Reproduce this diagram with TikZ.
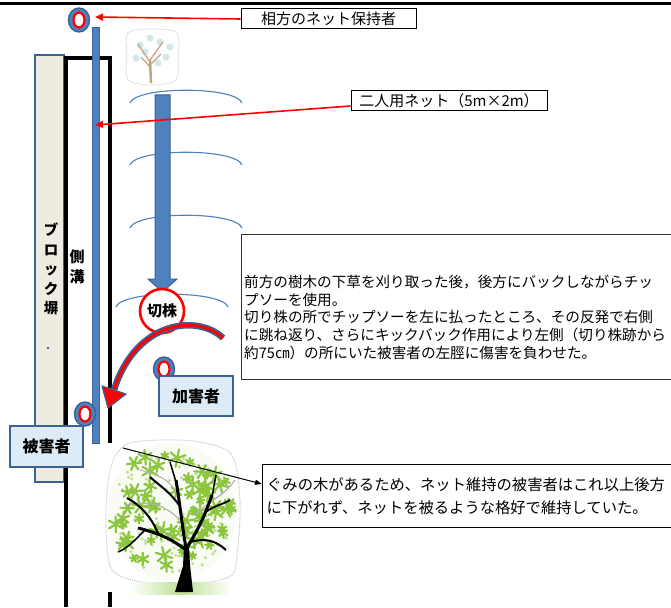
\documentclass[tikz,border=0pt]{standalone}
\usepackage{fontspec}
\usepackage{tikz}
\usetikzlibrary{arrows.meta,calc}

\newfontfamily\jp{Noto Sans CJK JP}

\definecolor{NetBlue}{HTML}{4F81BD}
\definecolor{EdgeBlue}{HTML}{3B6294}
\definecolor{TagFill}{HTML}{DCEBF5}
\definecolor{WallFill}{HTML}{EEECE1}
\definecolor{LeafGreen}{HTML}{8CC63F}
\definecolor{BarkTan}{HTML}{C8A27C}

\newcommand\netarc[2]{% centre x, top y
  \draw[NetArcSty] (#1-56,#2+13) .. controls (#1-50,#2-4) and (#1+50,#2-4) .. (#1+56,#2+13);
}
\newcommand\holdring[2]{% name, centre
  \coordinate (#1) at #2;
  \fill[NetBlue,even odd rule] (#1) ellipse (10.5 and 12) (#1) ellipse (5.5 and 7.5);
  \draw[EdgeBlue,line width=1.4pt] (#1) ellipse (10.5 and 12);
  \draw[red,line width=2.2pt] (#1) ellipse (5.5 and 7.5);
}
\newcommand\leaf[4]{% x, y, size, turn
  \foreach \a in {0,60,120}
    \draw[LeafSty] (#1,#2) ++({\a+#4}:{#3}) -- ++({\a+#4+180}:{2*#3});
}

\begin{document}
\begin{tikzpicture}[x=1pt,y=-1pt]
		\tikzstyle{every node}=[inner sep=0pt]
		\tikzstyle{NetArcSty}=[NetBlue,line width=1.1pt]
		\tikzstyle{CallSty}=[-{Triangle[length=8pt,width=7pt]},red,line width=1.6pt]
		\tikzstyle{PtrSty}=[-{Triangle[length=7pt,width=5pt]},black,line width=1pt]
		\tikzstyle{TagSty}=[draw,line width=1pt,fill=white,font=\jp\fontsize{15}{18}\selectfont]
		\tikzstyle{PersonSty}=[draw=EdgeBlue,line width=2pt,fill=TagFill,font=\jp\bfseries\fontsize{16}{18}\selectfont]
		\tikzstyle{StorySty}=[draw=black!80,line width=1.4pt,fill=white]
		\tikzstyle{StumpSty}=[circle,draw=red,line width=2.6pt,fill=white,minimum size=44pt,font=\jp\bfseries\fontsize{15}{18}\selectfont]
		\tikzstyle{UprightSty}=[align=center,font=\jp\bfseries\fontsize{14.5}{19.5}\selectfont]
		\tikzstyle{LeafSty}=[LeafGreen,line width=2.2pt,line cap=round]

\useasboundingbox (0,0) rectangle (671,607);
\fill[white] (0,0) rectangle (671,607);

% road edge at the top
\draw[line width=3.5pt] (0,3.5) -- (671,3.5);

% block wall and side ditch
\draw[EdgeBlue,fill=WallFill,line width=1.6pt] (35,55) rectangle (64,482);
\fill[EdgeBlue] (48,348) circle (1.3);
\draw[line width=3.5pt] (66,607) -- (66,58) -- (110,58) -- (110,443);
\draw[line width=3.5pt] (110,592) -- (110,607);
\node[UprightSty] (wall) at (51,269) {ブ\\ロ\\ッ\\ク\\塀};
\node[UprightSty,font=\jp\bfseries\fontsize{15}{20}\selectfont] (ditch) at (77,267) {側\\溝};

% the net, held up along the ditch
\draw[EdgeBlue,fill=NetBlue,line width=1pt] (92,28) rectangle (99,443);
\holdring{partnerring}{(79,20)}
\holdring{victimring}{(85,414)}
\holdring{attackerring}{(164,369)}

% small tree up ahead
\draw[gray!35,densely dotted,line width=1pt] plot[smooth cycle] coordinates {(128,33) (152,29) (177,33) (178,56) (176,80) (152,85) (128,80) (127,56)};
\foreach \p in {(140,45),(160,42),(150,38),(136,58),(166,57),(145,52),(158,63),(170,47)}
  \fill[teal!30,opacity=.6] \p circle (3.5);
\draw[BarkTan,line width=2.5pt] (151,83) -- (150,60);
\draw[BarkTan,line width=1.2pt] (150,62) -- (138,44) (150,60) -- (163,42) (150,67) -- (141,57) (150,65) -- (161,54);

% cutting swings while backing up
\netarc{186}{90}
\netarc{186}{152}
\netarc{186}{215}
\draw[EdgeBlue,fill=NetBlue,line width=1pt] (155,95) -- (170,95) -- (170,279) -- (177,279) -- (162.5,292) -- (148,279) -- (155,279) -- cycle;
\netarc{172}{294}
\node[StumpSty] (stump) at (162,311) {切株};

% kickback
\draw[EdgeBlue,line width=6.5pt] (223,338) .. controls (198,314) and (136,320) .. (114,390);
\draw[red,line width=3pt] (223,338) .. controls (198,314) and (136,320) .. (114,390);
\draw[EdgeBlue,fill=red,line width=1.2pt,line join=round] (102,386) -- (108,408) -- (126,394) -- cycle;

% callouts
\node[TagSty,minimum width=175pt,minimum height=20pt] (partner) at (328.5,19) {相方のネット保持者};
\node[TagSty,minimum width=196pt,minimum height=20pt] (netlbl) at (449,101) {二人用ネット（5m×2m）};
\coordinate (ringtip) at (95,17);
\coordinate (poletip) at (95,125);
\draw[CallSty] (partner.west) -- (ringtip);
\draw[CallSty] ($(netlbl.west)+(0,5)$) -- (poletip);

% what happened
\node[StorySty,minimum width=460pt,minimum height=145pt,anchor=north west] (story) at (241,234) {};
\node[anchor=north west,text width=440pt,align=left,font=\jp\fontsize{14.6}{17.7}\selectfont] (storytxt) at (244,275) {%
前方の樹木の下草を刈り取った後，後方にバックしながらチッ\\
プソーを使用。\\
切り株の所でチップソーを左に払ったところ、その反発で右側\\
に跳ね返り、さらにキックバック作用により左側（切り株跡から\\
約75㎝）の所にいた被害者の左脛に傷害を負わせた。};

\node[PersonSty,minimum width=74pt,minimum height=40pt] (attacker) at (196,396) {加害者};
\node[PersonSty,minimum width=73pt,minimum height=41pt] (victim) at (46.5,446.5) {被害者};

% gumi tree behind the victim
\fill[LeafGreen!5] (172,512) ellipse (64 and 69);
\draw[gray!45,densely dotted,line width=1pt] plot[smooth cycle] coordinates {(110,470) (125,445) (160,440) (200,442) (232,455) (240,500) (238,545) (232,575) (200,583) (150,583) (112,570) (106,520)};
\shade[left color=white,right color=white,middle color=LeafGreen!55] (130,582) rectangle (232,594);
\pgfmathsetseed{42}
\foreach \k in {1,...,80}{
  \pgfmathsetmacro\ang{360*rnd}
  \pgfmathsetmacro\rad{60*sqrt(rnd)}
  \fill[LeafGreen!55] ({172+\rad*cos(\ang)},{512+1.05*\rad*sin(\ang)}) circle (1.8);
}
\foreach \k in {1,...,70}{
  \pgfmathsetmacro\ang{360*rnd}
  \pgfmathsetmacro\rad{60*sqrt(rnd)}
  \pgfmathsetmacro\ls{3.5+5.5*rnd}
  \pgfmathsetmacro\lt{60*rnd}
  \leaf{{172+\rad*cos(\ang)}}{{510+1.05*\rad*sin(\ang)}}{\ls}{\lt}
}
\draw[gray!60,line width=1.2pt] (180,520) .. controls (165,505) and (150,500) .. (125,505);
\draw[gray!60,line width=1.2pt] (195,515) .. controls (210,500) and (225,495) .. (235,480);
\draw[gray!60,line width=1pt] (178,495) .. controls (170,480) and (160,475) .. (140,470);
\fill (175,592) -- (193,592) -- (190,565) -- (189,546) -- (184,546) -- (183,566) -- cycle;
\draw[line width=3pt] (186,550) .. controls (170,538) and (158,533) .. (138,528);
\draw[line width=2pt] (158,533) .. controls (150,515) and (140,505) .. (127,498);
\draw[line width=1.5pt] (145,530) .. controls (135,540) and (128,548) .. (118,552);
\draw[line width=3pt] (186,548) .. controls (182,525) and (180,505) .. (176,480);
\draw[line width=2pt] (179,505) .. controls (170,492) and (160,486) .. (150,477);
\draw[line width=1.5pt] (176,482) -- (170,462);
\draw[line width=3pt] (188,546) .. controls (198,530) and (205,515) .. (212,495);
\draw[line width=1.8pt] (206,512) .. controls (215,505) and (222,505) .. (230,500);
\draw[line width=2pt] (190,542) .. controls (205,538) and (215,540) .. (226,550);
\draw[line width=1.5pt] (212,497) -- (216,475);
\coordinate (gumi) at (123,448);
\node[draw,line width=1.4pt,anchor=north west,minimum height=63pt,text width=430pt,inner xsep=4pt,align=left,font=\jp\fontsize{15.3}{23}\selectfont] (gumibox) at (262,464) {%
ぐみの木があるため、ネット維持の被害者はこれ以上後方\\
に下がれず、ネットを被るような格好で維持していた。};
\draw[PtrSty] (gumi) -- ($(gumibox.north west)+(0,20)$);

\end{tikzpicture}
\end{document}
